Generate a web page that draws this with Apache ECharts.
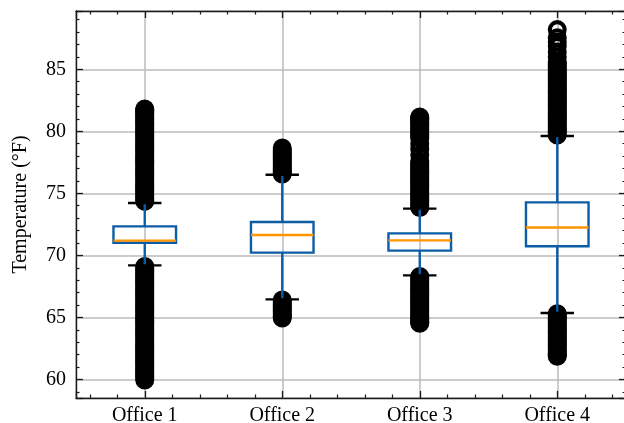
<!DOCTYPE html>
<html>
<head>
<meta charset="utf-8">
<script src="https://cdn.jsdelivr.net/npm/echarts@6/dist/echarts.min.js"></script>
<style>
html,body{margin:0;padding:0;background:#fff;}
#chart{width:624px;height:423px;}
</style>
</head>
<body>
<div id="chart"></div>
<script>
// ---- data ----
const categories = ['Office 1', 'Office 2', 'Office 3', 'Office 4'];
const whiskerLow  = [69.19, 66.45, 68.39, 65.35];
const q1          = [71.02, 70.22, 70.38, 70.73];
const median      = [71.19, 71.64, 71.21, 72.24];
const q3          = [72.34, 72.69, 71.77, 74.27];
const whiskerHigh = [74.22, 76.5, 73.77, 79.62];

const outliers1 = [74.35, 74.5, 74.65, 74.8, 74.95, 75.1, 75.25, 75.4, 75.55, 75.7, 75.85, 76.0, 76.15, 76.3, 76.45, 76.6, 76.75, 76.9,
                   77.05, 77.2, 77.35, 77.5, 77.65, 77.8, 77.95, 78.1, 78.25, 78.4, 78.55, 78.7, 78.85, 79.0, 79.15, 79.3, 79.45, 79.6,
                   79.75, 79.9, 80.05, 80.2, 80.35, 80.5, 80.65, 80.8, 80.95, 81.1, 81.25, 81.4, 81.5, 81.6, 81.7, 81.8,
                   69.1, 68.95, 68.8, 68.65, 68.5, 68.35, 68.2, 68.05, 67.9, 67.75, 67.6, 67.45, 67.3, 67.15, 67.0, 66.85, 66.7, 66.55,
                   66.4, 66.25, 66.1, 65.95, 65.8, 65.65, 65.5, 65.35, 65.2, 65.05, 64.9, 64.75, 64.6, 64.45, 64.3, 64.15, 64.0, 63.85,
                   63.7, 63.55, 63.4, 63.25, 63.1, 62.95, 62.8, 62.65, 62.5, 62.35, 62.2, 62.05, 61.9, 61.75, 61.6, 61.45, 61.3, 61.15,
                   61.0, 60.85, 60.7, 60.55, 60.4, 60.25, 60.1, 59.95];
const outliers2 = [76.55, 76.7, 76.85, 77.0, 77.15, 77.3, 77.45, 77.6, 77.75, 77.9, 78.05, 78.2, 78.35, 78.5, 78.65,
                   66.4, 66.25, 66.1, 65.95, 65.8, 65.65, 65.5, 65.35, 65.2, 65.05, 64.94];
const outliers3 = [73.85, 74.0, 74.15, 74.3, 74.45, 74.6, 74.75, 74.9, 75.05, 75.2, 75.35, 75.5, 75.65, 75.8, 75.95, 76.1,
                   76.25, 76.4, 76.55, 76.7, 76.85, 77.0, 77.15, 77.3, 77.45, 77.6, 78.1, 78.55, 79.0, 79.45, 79.6, 79.75,
                   79.9, 80.05, 80.2, 80.35, 80.5, 80.65, 80.8, 80.95, 81.05, 81.15,
                   68.3, 68.15, 68.0, 67.85, 67.7, 67.55, 67.4, 67.25, 67.1, 66.95, 66.8, 66.65, 66.5, 66.35, 66.2, 66.05,
                   65.9, 65.75, 65.6, 65.45, 65.3, 65.15, 65.0, 64.85, 64.7, 64.6, 64.53];
const outliers4 = [79.7, 79.85, 80.0, 80.15, 80.3, 80.45, 80.6, 80.75, 80.9, 81.05, 81.2, 81.35, 81.5, 81.65, 81.8, 81.95,
                   82.1, 82.25, 82.4, 82.55, 82.7, 82.85, 83.0, 83.15, 83.3, 83.45, 83.6, 83.75, 83.9, 84.05, 84.2, 84.35,
                   84.5, 84.65, 84.8, 84.95, 85.1, 85.25, 85.4, 85.6, 86.0, 86.4, 86.85, 87.2, 87.55, 88.2,
                   65.3, 65.15, 65.0, 64.85, 64.7, 64.55, 64.4, 64.25, 64.1, 63.95, 63.8, 63.65, 63.5, 63.35, 63.2, 63.05,
                   62.9, 62.75, 62.6, 62.45, 62.3, 62.15, 62.0, 61.95, 61.87];
const yName = 'Temperature (°F)';

// ---- build options ----
const outlierLists = [outliers1, outliers2, outliers3, outliers4];
const boxData = categories.map((c, i) => [i + 1, whiskerLow[i], q1[i], median[i], q3[i], whiskerHigh[i]]);
const outlierData = [];
outlierLists.forEach((list, i) => list.forEach(v => outlierData.push([i + 1, v])));

const FONT = 'Liberation Serif';
const BLUE = '#0C5DA5';
const ORANGE = '#FF9500';
const SPINE = '#1a1a1a';
const GRID = '#bbbbbb';

const BOX_W = 0.455;  // in x units
const CAP_W = 0.243;

function renderBox(params, api) {
  const x = api.value(0);
  const lo = api.coord([x, api.value(1)]);
  const p1 = api.coord([x, api.value(2)]);
  const pm = api.coord([x, api.value(3)]);
  const p3 = api.coord([x, api.value(4)]);
  const hi = api.coord([x, api.value(5)]);
  const bw = api.size([BOX_W, 0])[0];
  const cw = api.size([CAP_W, 0])[0];
  const cx = lo[0];
  const lw = 2.4;
  return {
    type: 'group',
    children: [
      {type: 'line', shape: {x1: cx, y1: p1[1], x2: cx, y2: lo[1]}, style: {stroke: BLUE, lineWidth: lw}},
      {type: 'line', shape: {x1: cx, y1: p3[1], x2: cx, y2: hi[1]}, style: {stroke: BLUE, lineWidth: lw}},
      {type: 'rect', shape: {x: cx - bw / 2, y: p3[1], width: bw, height: p1[1] - p3[1]}, style: {fill: 'none', stroke: BLUE, lineWidth: lw}},
      {type: 'line', shape: {x1: cx - bw / 2, y1: pm[1], x2: cx + bw / 2, y2: pm[1]}, style: {stroke: ORANGE, lineWidth: lw}},
      {type: 'line', shape: {x1: cx - cw / 2, y1: lo[1], x2: cx + cw / 2, y2: lo[1]}, style: {stroke: '#000', lineWidth: lw}},
      {type: 'line', shape: {x1: cx - cw / 2, y1: hi[1], x2: cx + cw / 2, y2: hi[1]}, style: {stroke: '#000', lineWidth: lw}}
    ]
  };
}

const tickCommon = {show: true, inside: true, length: 7, lineStyle: {color: SPINE, width: 1.3}};
const minorCommon = {show: true, length: 3.5, lineStyle: {color: SPINE, width: 1.2}};
const lineCommon = {show: true, onZero: false, lineStyle: {color: SPINE, width: 1.4}};

const chart = echarts.init(document.getElementById('chart'), null, {renderer: 'canvas'});
chart.setOption({
  animation: false,
  backgroundColor: '#fff',
  grid: {left: 76, right: -2, top: 11, bottom: 25, containLabel: false, outerBoundsMode: 'none'},
  xAxis: [
    {
      type: 'value', min: 0.5, max: 4.5, position: 'bottom',
      axisLine: lineCommon, axisTick: tickCommon, minorTick: Object.assign({splitNumber: 5}, minorCommon),
      axisLabel: {
        showMinLabel: false, showMaxLabel: false, margin: 8,
        fontFamily: FONT, fontSize: 20, color: '#000',
        formatter: v => (Number.isInteger(v) && categories[v - 1]) ? categories[v - 1] : ''
      },
      splitLine: {show: true, lineStyle: {color: GRID, width: 1.5}}
    },
    {
      type: 'value', min: 0.5, max: 4.5, position: 'top',
      axisLine: lineCommon, axisTick: tickCommon, minorTick: Object.assign({splitNumber: 5}, minorCommon),
      axisLabel: {show: false}, splitLine: {show: false}
    }
  ],
  yAxis: [
    {
      type: 'value', min: 58.5, max: 89.7, position: 'left',
      axisLine: lineCommon, axisTick: tickCommon, minorTick: Object.assign({splitNumber: 5}, minorCommon),
      axisLabel: {showMinLabel: false, showMaxLabel: false, margin: 10, fontFamily: FONT, fontSize: 20, color: '#000',
        formatter: v => (v % 5 === 0 ? String(v) : '')},
      splitLine: {show: true, lineStyle: {color: GRID, width: 1.5}},
      name: yName, nameLocation: 'middle', nameGap: 45,
      nameTextStyle: {fontFamily: FONT, fontSize: 20, color: '#000'}
    },
    {
      type: 'value', min: 58.5, max: 89.7, position: 'right',
      axisLine: lineCommon, axisTick: tickCommon, minorTick: Object.assign({splitNumber: 5}, minorCommon),
      axisLabel: {show: false}, splitLine: {show: false}
    }
  ],
  series: [
    {
      type: 'custom', xAxisIndex: 0, yAxisIndex: 0,
      renderItem: renderBox, data: boxData, z: 3,
      encode: {x: 0, y: [1, 2, 3, 4, 5]}
    },
    {
      type: 'scatter', xAxisIndex: 0, yAxisIndex: 0,
      data: outlierData, symbol: 'circle', symbolSize: 14.8, z: 2,
      itemStyle: {color: 'rgba(0,0,0,0)', borderColor: '#000', borderWidth: 4.2, opacity: 1}
    }
  ]
});
</script>
</body>
</html>
